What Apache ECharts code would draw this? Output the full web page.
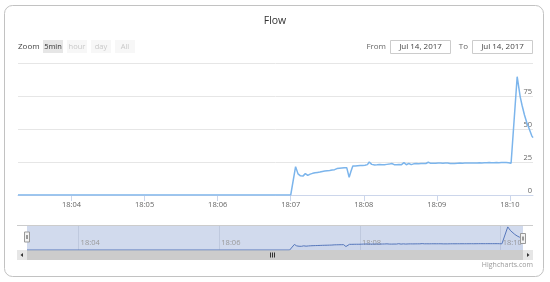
<!DOCTYPE html>
<html><head><meta charset="utf-8">
<script src="https://cdn.jsdelivr.net/npm/echarts@6/dist/echarts.min.js"></script>
<style>html,body{margin:0;padding:0;background:#fff}#c{width:550px;height:282px}</style>
</head><body><div id="c"></div>
<script>
// ---- chart text ----
const titleText = 'Flow';
const zoomLabel = 'Zoom';
const rangeButtons = ['5min', 'hour', 'day', 'All'];
const selectedButton = '5min';
const fromLabel = 'From';
const toLabel = 'To';
const fromDate = 'Jul 14, 2017';
const toDate = 'Jul 14, 2017';
const creditText = 'Highcharts.com';

// ---- axes ----
const xTickLabels = ['18:04', '18:05', '18:06', '18:07', '18:08', '18:09', '18:10'];
const navTickLabels = ['18:04', '18:06', '18:08', '18:10'];
const yTickValues = [0, 25, 50, 75, 100];
const xRangeStart = '18:03:16';
const xRangeEnd = '18:10:19';

// ---- data: seconds after 18:00:00 on Jul 14, 2017, flow values ----
const flowTimes = [
  196, 300, 360, 420, 421, 424, 426, 428, 430, 432, 434, 436, 438, 440, 442, 444,
  446, 448, 450, 452, 454, 456, 458, 460, 462, 464, 466, 467, 468, 469.5, 471, 473,
  475, 477, 479, 481, 483, 484.5, 486.5, 489, 491, 493, 495, 497, 499, 501, 503, 505,
  507, 509, 511, 513, 515, 517, 519, 521, 523, 525, 527, 529, 531, 533, 535, 537,
  539, 541, 543, 545, 547, 549, 551, 552.5, 554.5, 557, 559, 561, 563, 565, 567, 569,
  571, 573, 575, 577, 579, 581, 583, 585, 587, 589, 591, 593, 595, 597, 599, 601,
  602, 606, 608.5, 610, 612, 614, 616, 618, 619
];
const flowValues = [
  0, 0, 0, 0, 1.5, 21.5, 16.0, 14.5, 14.3, 16.2, 14.8, 15.8, 16.4, 16.8, 17.1, 17.4,
  17.8, 18.1, 18.4, 18.6, 18.9, 19.2, 20.0, 20.2, 20.4, 20.6, 20.7, 20.6, 13.4, 18.0, 22.0, 22.0,
  22.2, 22.3, 22.3, 22.5, 23.0, 25.0, 23.2, 22.8, 22.9, 23.1, 22.9, 23.0, 23.2, 23.4, 23.9, 23.0,
  22.9, 23.1, 23.0, 24.5, 22.9, 23.9, 23.0, 23.6, 23.8, 23.7, 23.8, 23.9, 23.9, 24.8, 24.0, 24.1,
  24.0, 24.2, 24.2, 24.1, 24.2, 24.2, 23.8, 22.9, 23.8, 24.1, 24.2, 24.1, 24.2, 24.2, 24.3, 24.2,
  24.3, 24.3, 24.4, 24.3, 24.4, 24.5, 24.6, 24.5, 24.5, 24.6, 24.5, 24.6, 24.6, 24.6, 24.4, 24.0,
  24.2, 89.6, 74.4, 68.0, 60.6, 54.5, 49.8, 44.8, 43.4
];

function toSec(s) {
  const p = s.split(':').map(Number);
  return (p[0] - 18) * 3600 + p[1] * 60 + (p[2] || 0);
}
function fmt(sec) {
  const m = Math.floor(sec / 60) % 60, h = 18 + Math.floor(sec / 3600);
  return h + ':' + String(m).padStart(2, '0');
}
const xMin = toSec(xRangeStart), xMax = toSec(xRangeEnd);
const xTickVals = xTickLabels.map(toSec);
const navTickVals = navTickLabels.map(toSec);
const seriesData = flowTimes.map((t, i) => [t, flowValues[i]]);

const FONT = '"Open Sans", "DejaVu Sans", sans-serif';
const chart = echarts.init(document.getElementById('c'), null, {renderer: 'canvas'});

// graphics: range selector, inputs, scrollbar, handles, frame
const g = [];
g.push({type: 'rect', shape: {x: 4.5, y: 5.5, width: 539, height: 271, r: 8},
  style: {fill: 'none', stroke: '#c2c2c2', lineWidth: 1}, z: 50});
g.push({type: 'text', x: 275, y: 21, style: {text: titleText, font: '10.5px ' + FONT, fill: '#333',
  textAlign: 'center', textVerticalAlign: 'middle'}});
g.push({type: 'text', x: 18, y: 46.5, style: {text: zoomLabel, font: '8px ' + FONT, fill: '#444',
  textVerticalAlign: 'middle'}});
rangeButtons.forEach((b, i) => {
  const x = 43 + i * 24, sel = b === selectedButton;
  g.push({type: 'rect', shape: {x: x, y: 40, width: 20, height: 13},
    style: {fill: sel ? '#e6e6e6' : '#f7f7f7'}});
  g.push({type: 'text', x: x + 10, y: 46.5, style: {text: b, font: '7.5px ' + FONT,
    fill: sel ? '#333' : '#c8c8c8', textAlign: 'center', textVerticalAlign: 'middle'}});
});
[[fromLabel, 386, fromDate, 390.5], [toLabel, 468, toDate, 472.5]].forEach(([lab, lx, d, bx]) => {
  g.push({type: 'text', x: lx, y: 47, style: {text: lab, font: '8px ' + FONT, fill: '#666',
    textAlign: 'right', textVerticalAlign: 'middle'}});
  g.push({type: 'rect', shape: {x: bx, y: 40.5, width: 60, height: 13},
    style: {fill: '#fff', stroke: '#cccccc', lineWidth: 1}});
  g.push({type: 'text', x: bx + 30, y: 47, style: {text: d, font: '8px ' + FONT, fill: '#444',
    textAlign: 'center', textVerticalAlign: 'middle'}});
});
// navigator outline
g.push({type: 'line', shape: {x1: 17, y1: 225.5, x2: 533, y2: 225.5}, style: {stroke: '#cccccc', lineWidth: 1}, z: 20});
// scrollbar
g.push({type: 'rect', shape: {x: 17, y: 250, width: 516, height: 10}, style: {fill: '#f2f2f2'}});
g.push({type: 'rect', shape: {x: 27, y: 250, width: 496, height: 10}, style: {fill: '#cccccc'}});
g.push({type: 'rect', shape: {x: 17, y: 250, width: 10, height: 10}, style: {fill: '#e6e6e6'}});
g.push({type: 'rect', shape: {x: 523, y: 250, width: 10, height: 10}, style: {fill: '#e6e6e6'}});
g.push({type: 'polygon', shape: {points: [[23, 253], [23, 257], [20.5, 255]]}, style: {fill: '#333'}});
g.push({type: 'polygon', shape: {points: [[527, 253], [527, 257], [529.5, 255]]}, style: {fill: '#333'}});
[270.5, 272.5, 274.5].forEach(x => g.push({type: 'line', shape: {x1: x, y1: 252.5, x2: x, y2: 257.5},
  style: {stroke: '#333', lineWidth: 1}}));
// navigator handles
[[27, 232], [523, 233.5]].forEach(([cx, y]) => {
  g.push({type: 'rect', shape: {x: cx - 2.5, y: y, width: 5, height: 10},
    style: {fill: '#f2f2f2', stroke: '#999', lineWidth: 1}, z: 30});
  g.push({type: 'line', shape: {x1: cx - 0.5, y1: y + 3, x2: cx - 0.5, y2: y + 7},
    style: {stroke: '#999', lineWidth: 1}, z: 31});
  g.push({type: 'line', shape: {x1: cx + 0.5, y1: y + 3, x2: cx + 0.5, y2: y + 7},
    style: {stroke: '#999', lineWidth: 1}, z: 31});
});
g.push({type: 'text', x: 533, y: 265, style: {text: creditText, font: '7px ' + FONT, fill: '#999',
  textAlign: 'right', textVerticalAlign: 'middle'}});

chart.setOption({
  animation: false,
  backgroundColor: '#fff',
  textStyle: {fontFamily: FONT},
  grid: [
    {left: 18, right: 17, top: 63, height: 132},
    {left: 27, width: 496, top: 225, height: 25, show: true, backgroundColor: 'rgba(102,133,194,0.3)', borderWidth: 0}
  ],
  xAxis: [
    {type: 'value', gridIndex: 0, min: xMin, max: xMax,
      axisLine: {show: true, lineStyle: {color: '#ccd6eb', width: 1}},
      axisTick: {show: true, customValues: xTickVals, length: 6, lineStyle: {color: '#ccd6eb'}},
      axisLabel: {customValues: xTickVals, formatter: v => fmt(v), color: '#666', fontSize: 7.5, margin: 6, fontFamily: FONT},
      splitLine: {show: false}},
    {type: 'value', gridIndex: 1, min: xMin, max: xMax,
      axisLine: {show: false},
      axisTick: {show: false, customValues: navTickVals},
      axisLabel: {customValues: navTickVals, formatter: v => fmt(v), inside: true, align: 'left',
        verticalAlign: 'bottom', margin: 3, padding: [0, 0, 0, 2], color: '#999', fontSize: 7.5, fontFamily: FONT},
      splitLine: {show: true, lineStyle: {color: 'rgba(140,150,180,0.25)', width: 1}}}
  ],
  yAxis: [
    {type: 'value', gridIndex: 0, position: 'right', min: yTickValues[0], max: yTickValues[yTickValues.length - 1],
      interval: yTickValues[1] - yTickValues[0],
      axisLine: {show: false}, axisTick: {show: false},
      axisLabel: {inside: true, margin: 1, verticalAlign: 'bottom', color: '#666', fontSize: 7.5, fontFamily: FONT,
        formatter: v => (v === yTickValues[yTickValues.length - 1] ? '' : String(v))},
      splitLine: {lineStyle: {color: '#e6e6e6', width: 1}}},
    {type: 'value', gridIndex: 1, min: 0, max: 97, show: false}
  ],
  series: [
    {type: 'line', xAxisIndex: 0, yAxisIndex: 0, data: seriesData, showSymbol: false, symbol: 'none',
      lineStyle: {color: '#7cb5ec', width: 1.5}, z: 3},
    {type: 'line', xAxisIndex: 1, yAxisIndex: 1, data: seriesData, showSymbol: false, symbol: 'none',
      lineStyle: {color: '#5677bb', width: 1}, areaStyle: {color: 'rgba(86,119,187,0.05)'}, z: 3}
  ],
  graphic: g
});
</script>
</body></html>
